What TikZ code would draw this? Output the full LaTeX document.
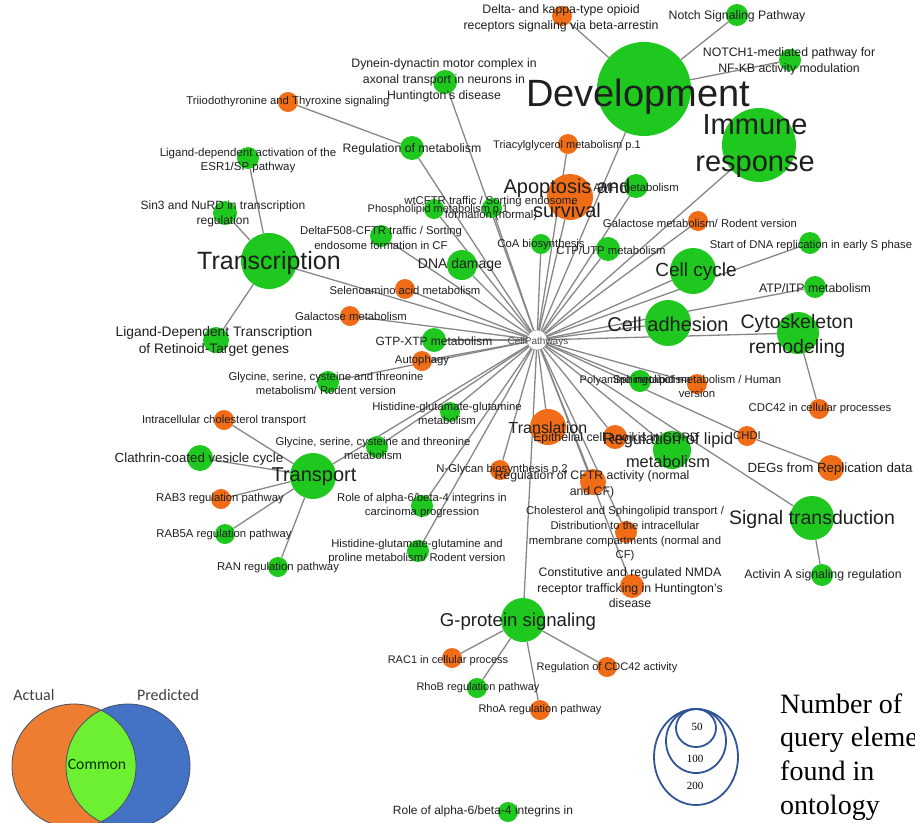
\documentclass[tikz,border=0pt]{standalone}
\usepackage{fontspec}
\setmainfont{Liberation Sans}
\newfontfamily\serifface{Liberation Serif}
\newfontfamily\calface{Carlito}
\definecolor{pgreen}{RGB}{30,200,30}
\definecolor{porange}{RGB}{240,108,22}
\definecolor{linkgray}{RGB}{135,135,135}
\definecolor{vorange}{RGB}{237,125,49}
\definecolor{vblue}{RGB}{68,114,196}
\definecolor{vgreen}{RGB}{110,240,50}
\definecolor{vline}{RGB}{70,80,100}
\definecolor{sizeblue}{RGB}{47,85,151}
\pgfdeclarelayer{links}
\pgfsetlayers{links,main}

\begin{document}
\begin{tikzpicture}[x=1pt, y=-1pt,
  gnode/.style={circle, fill=pgreen, inner sep=0pt, minimum size=#1},
  onode/.style={circle, fill=porange, inner sep=0pt, minimum size=#1},
  lbl/.style={font=\fontsize{11.3}{14}\selectfont, align=center, inner sep=0pt, text=black!88},
  fs/.style 2 args={font=\fontsize{#1}{#2}\selectfont},
  link/.style={draw=linkgray, line width=1.3pt}]
\useasboundingbox (0,0) rectangle (915,822);
\clip (0,0) rectangle (915,822);
% pathway circles
\node[circle, draw=linkgray, fill=white, minimum size=20pt, inner sep=0pt] (CPN0) at (537,340) {};
\node[gnode=94pt] (CPN1) at (644,89) {};
\node[gnode=74pt] (CPN2) at (759,145) {};
\node[gnode=56pt] (CPN3) at (269,261) {};
\node[onode=46pt] (CPN4) at (570,197) {};
\node[gnode=46pt] (CPN5) at (693,271) {};
\node[gnode=46pt] (CPN6) at (668,323) {};
\node[gnode=42pt] (CPN7) at (798,333) {};
\node[gnode=44pt] (CPN8) at (812,518) {};
\node[gnode=46pt] (CPN9) at (313,476) {};
\node[onode=36pt] (CPN10) at (548,427) {};
\node[gnode=38pt] (CPN11) at (672,450) {};
\node[gnode=44pt] (CPN12) at (523,620) {};
\node[gnode=30pt] (CPN13) at (462,265) {};
\node[gnode=26pt] (CPN14) at (216,340) {};
\node[gnode=26pt] (CPN15) at (200,458) {};
\node[gnode=24pt] (CPN16) at (434,340) {};
\node[gnode=24pt] (CPN17) at (412,148) {};
\node[onode=20pt] (CPN18) at (288,102) {};
\node[gnode=24pt] (CPN19) at (445,82) {};
\node[onode=20pt] (CPN20) at (562,16) {};
\node[gnode=22pt] (CPN21) at (737,15) {};
\node[gnode=22pt] (CPN22) at (790,60) {};
\node[onode=20pt] (CPN23) at (568,144) {};
\node[gnode=24pt] (CPN24) at (636,186) {};
\node[gnode=20pt] (CPN25) at (434,209) {};
\node[gnode=20pt] (CPN26) at (492,208) {};
\node[gnode=22pt] (CPN27) at (381,236) {};
\node[gnode=20pt] (CPN28) at (541,244) {};
\node[gnode=24pt] (CPN29) at (608,249) {};
\node[onode=20pt] (CPN30) at (698,221) {};
\node[gnode=22pt] (CPN31) at (810,243) {};
\node[gnode=22pt] (CPN32) at (815,287) {};
\node[onode=20pt] (CPN33) at (405,289) {};
\node[onode=20pt] (CPN34) at (350,316) {};
\node[onode=20pt] (CPN35) at (422,361) {};
\node[gnode=22pt] (CPN36) at (328,382) {};
\node[gnode=20pt] (CPN37) at (450,412) {};
\node[onode=20pt] (CPN38) at (224,420) {};
\node[gnode=22pt] (CPN39) at (377,447) {};
\node[onode=20pt] (CPN40) at (221,499) {};
\node[gnode=20pt] (CPN41) at (225,534) {};
\node[gnode=20pt] (CPN42) at (278,567) {};
\node[gnode=22pt] (CPN43) at (422,506) {};
\node[gnode=22pt] (CPN44) at (418,551) {};
\node[onode=20pt] (CPN45) at (500,470) {};
\node[onode=26pt] (CPN46) at (593,482) {};
\node[onode=24pt] (CPN47) at (615,437) {};
\node[gnode=22pt] (CPN48) at (640,381) {};
\node[onode=20pt] (CPN49) at (697,384) {};
\node[onode=20pt] (CPN50) at (747,436) {};
\node[onode=26pt] (CPN51) at (831,468) {};
\node[onode=20pt] (CPN52) at (819,409) {};
\node[gnode=22pt] (CPN53) at (822,575) {};
\node[onode=22pt] (CPN54) at (626,532) {};
\node[onode=24pt] (CPN55) at (632,586) {};
\node[onode=20pt] (CPN56) at (452,658) {};
\node[onode=20pt] (CPN57) at (607,667) {};
\node[gnode=20pt] (CPN58) at (477,688) {};
\node[onode=20pt] (CPN59) at (540,710) {};
\node[gnode=20pt] (CPN60) at (508,812) {};
\node[gnode=22pt] (CPN61) at (248,158) {};
\node[gnode=24pt] (CPN62) at (225,213) {};
% pathway names
\node[lbl, fs={10}{12}, text=black!70] (CPT0) at (538,342) {CellPathways};
\node[lbl, fs={38}{40}] (CPT1) at (638,97) {Development};
\node[lbl, fs={29}{37}] (CPT2) at (755,146) {Immune\\response};
\node[lbl, fs={25}{28}] (CPT3) at (269,263) {Transcription};
\node[lbl, fs={20}{24}] (CPT4) at (567,198) {Apoptosis and\\survival};
\node[lbl, fs={19}{22}] (CPT5) at (696,272) {Cell cycle};
\node[lbl, fs={20}{23}] (CPT6) at (668,324) {Cell adhesion};
\node[lbl, fs={19.5}{25}] (CPT7) at (797,336) {Cytoskeleton\\remodeling};
\node[lbl, fs={19.5}{22}] (CPT8) at (812,519) {Signal transduction};
\node[lbl, fs={20}{23}] (CPT9) at (314,477) {Transport};
\node[lbl, fs={16}{19}] (CPT10) at (548,428) {Translation};
\node[lbl, fs={16.4}{23}] (CPT11) at (668,450) {Regulation of lipid\\metabolism};
\node[lbl, fs={18.6}{21}] (CPT12) at (518,622) {G-protein signaling};
\node[lbl, fs={14}{16}] (CPT13) at (460,265) {DNA damage};
\node[lbl, fs={13.8}{17}] (CPT14) at (214,341) {Ligand-Dependent Transcription\\of Retinoid-Target genes};
\node[lbl, fs={13.3}{16}] (CPT15) at (199,459) {Clathrin-coated vesicle cycle};
\node[lbl, fs={12}{14}] (CPT16) at (434,341) {GTP-XTP metabolism};
\node[lbl, fs={12.3}{14}] (CPT17) at (412,149) {Regulation of metabolism};
\node[lbl] (CPT18) at (288,102) {Triiodothyronine and Thyroxine signaling};
\node[lbl, fs={12.3}{16}] (CPT19) at (444,80) {Dynein-dynactin motor complex in\\axonal transport in neurons in\\Huntington's disease};
\node[lbl, fs={12.3}{16}] (CPT20) at (561,18) {Delta- and kappa-type opioid\\receptors signaling via beta-arrestin};
\node[lbl, fs={12.3}{14}] (CPT21) at (737,16) {Notch Signaling Pathway};
\node[lbl, fs={12.3}{16}] (CPT22) at (789,61) {NOTCH1-mediated pathway for\\NF-KB activity modulation};
\node[lbl, fs={11}{13}] (CPT23) at (567,146) {Triacylglycerol metabolism p.1};
\node[lbl] (CPT24) at (636,187) {AMP metabolism};
\node[lbl, fs={11}{13}] (CPT25) at (438,210) {Phospholipid metabolism p.1};
\node[lbl] (CPT26) at (491,209) {wtCFTR traffic / Sorting endosome\\formation (normal)};
\node[lbl, fs={11.3}{15}] (CPT27) at (381,238) {DeltaF508-CFTR traffic / Sorting\\endosome formation in CF};
\node[lbl] (CPT28) at (541,245) {CoA biosynthesis};
\node[lbl] (CPT29) at (611,250) {CTP/UTP metabolism};
\node[lbl] (CPT30) at (700,223) {Galactose metabolism/ Rodent version};
\node[lbl] (CPT31) at (811,246) {Start of DNA replication in early S phase};
\node[lbl, fs={12.3}{14}] (CPT32) at (815,288) {ATP/ITP metabolism};
\node[lbl] (CPT33) at (405,290) {Selenoamino acid metabolism};
\node[lbl] (CPT34) at (351,316) {Galactose metabolism};
\node[lbl] (CPT35) at (422,361) {Autophagy};
\node[lbl] (CPT36) at (326,383) {Glycine, serine, cysteine and threonine\\metabolism/ Rodent version};
\node[lbl] (CPT37) at (447,413) {Histidine-glutamate-glutamine\\metabolism};
\node[lbl] (CPT38) at (224,421) {Intracellular cholesterol transport};
\node[lbl] (CPT39) at (373,448) {Glycine, serine, cysteine and threonine\\metabolism};
\node[lbl] (CPT40) at (220,499) {RAB3 regulation pathway};
\node[lbl] (CPT41) at (224,535) {RAB5A regulation pathway};
\node[lbl] (CPT42) at (278,568) {RAN regulation pathway};
\node[lbl] (CPT43) at (422,506) {Role of alpha-6/beta-4 integrins in\\carcinoma progression};
\node[lbl] (CPT44) at (417,552) {Histidine-glutamate-glutamine and\\proline metabolism/ Rodent version};
\node[lbl] (CPT45) at (502,470) {N-Glycan biosynthesis p.2};
\node[lbl, fs={12.3}{16}] (CPT46) at (592,484) {Regulation of CFTR activity (normal\\and CF)};
\node[lbl, fs={12.3}{14}] (CPT47) at (616,438) {Epithelial cell anoikis in COPD};
\node[lbl, fs={11}{13}] (CPT48) at (635,381) {Polyamine metabolism};
\node[lbl] (CPT49) at (697,386) {Sphingolipid metabolism / Human\\version};
\node[lbl] (CPT50) at (747,436) {CHDI};
\node[lbl, fs={13.3}{16}] (CPT51) at (830,469) {DEGs from Replication data};
\node[lbl] (CPT52) at (820,409) {CDC42 in cellular processes};
\node[lbl, fs={12.3}{14}] (CPT53) at (823,575) {Activin A signaling regulation};
\node[lbl, fs={11.3}{14.7}] (CPT54) at (625,534) {Cholesterol and Sphingolipid transport /\\Distribution to the intracellular\\membrane compartments (normal and\\CF)};
\node[lbl, fs={12.3}{15.5}] (CPT55) at (630,588) {Constitutive and regulated NMDA\\receptor trafficking in Huntington's\\disease};
\node[lbl, fs={11}{13}] (CPT56) at (448,661) {RAC1 in cellular process};
\node[lbl, fs={11}{13}] (CPT57) at (607,668) {Regulation of CDC42 activity};
\node[lbl, fs={11}{13}] (CPT58) at (478,688) {RhoB regulation pathway};
\node[lbl, fs={11}{13}] (CPT59) at (540,710) {RhoA regulation pathway};
\node[lbl, fs={12}{14}] (CPT60) at (483,811) {Role of alpha-6/beta-4 integrins in};
\node[lbl, fs={11.5}{14}] (CPT61) at (248,161) {Ligand-dependent activation of the\\ESR1/SP pathway};
\node[lbl, fs={12}{15}] (CPT62) at (223,214) {Sin3 and NuRD in transcription\\regulation};
% links
\begin{pgfonlayer}{links}
\draw[link] (CPN0) -- (CPN1);
\draw[link] (CPN0) -- (CPN2);
\draw[link] (CPN0) -- (CPN3);
\draw[link] (CPN0) -- (CPN4);
\draw[link] (CPN0) -- (CPN5);
\draw[link] (CPN0) -- (CPN6);
\draw[link] (CPN0) -- (CPN7);
\draw[link] (CPN0) -- (CPN8);
\draw[link] (CPN0) -- (CPN9);
\draw[link] (CPN0) -- (CPN10);
\draw[link] (CPN0) -- (CPN11);
\draw[link] (CPN0) -- (CPN12);
\draw[link] (CPN0) -- (CPN13);
\draw[link] (CPN0) -- (CPN16);
\draw[link] (CPN0) -- (CPN17);
\draw[link] (CPN0) -- (CPN19);
\draw[link] (CPN0) -- (CPN23);
\draw[link] (CPN0) -- (CPN24);
\draw[link] (CPN0) -- (CPN25);
\draw[link] (CPN0) -- (CPN26);
\draw[link] (CPN0) -- (CPN27);
\draw[link] (CPN0) -- (CPN28);
\draw[link] (CPN0) -- (CPN29);
\draw[link] (CPN0) -- (CPN30);
\draw[link] (CPN0) -- (CPN31);
\draw[link] (CPN0) -- (CPN32);
\draw[link] (CPN0) -- (CPN33);
\draw[link] (CPN0) -- (CPN34);
\draw[link] (CPN0) -- (CPN35);
\draw[link] (CPN0) -- (CPN36);
\draw[link] (CPN0) -- (CPN37);
\draw[link] (CPN0) -- (CPN39);
\draw[link] (CPN0) -- (CPN43);
\draw[link] (CPN0) -- (CPN44);
\draw[link] (CPN0) -- (CPN45);
\draw[link] (CPN0) -- (CPN46);
\draw[link] (CPN0) -- (CPN47);
\draw[link] (CPN0) -- (CPN48);
\draw[link] (CPN0) -- (CPN49);
\draw[link] (CPN0) -- (CPN50);
\draw[link] (CPN0) -- (CPN54);
\draw[link] (CPN0) -- (CPN55);
\draw[link] (CPN1) -- (CPN20);
\draw[link] (CPN1) -- (CPN21);
\draw[link] (CPN1) -- (CPN22);
\draw[link] (CPN3) -- (CPN14);
\draw[link] (CPN3) -- (CPN61);
\draw[link] (CPN3) -- (CPN62);
\draw[link] (CPN17) -- (CPN18);
\draw[link] (CPN9) -- (CPN15);
\draw[link] (CPN9) -- (CPN38);
\draw[link] (CPN9) -- (CPN40);
\draw[link] (CPN9) -- (CPN41);
\draw[link] (CPN9) -- (CPN42);
\draw[link] (CPN7) -- (CPN52);
\draw[link] (CPN50) -- (CPN51);
\draw[link] (CPN8) -- (CPN53);
\draw[link] (CPN12) -- (CPN56);
\draw[link] (CPN12) -- (CPN57);
\draw[link] (CPN12) -- (CPN58);
\draw[link] (CPN12) -- (CPN59);
\end{pgfonlayer}
% legend: venn
\fill[vorange] (74,766) circle (62pt);
\fill[vblue] (128,766) circle (62pt);
\begin{scope}
\clip (74,766) circle (62pt);
\fill[vgreen] (128,766) circle (62pt);
\end{scope}
\draw[vline, line width=0.8pt] (74,766) circle (62pt);
\draw[vline, line width=0.8pt] (128,766) circle (62pt);
\node[font=\calface\fontsize{16}{18}\selectfont, text=black!75, inner sep=0pt] (LGA) at (34,695) {Actual};
\node[font=\calface\fontsize{16}{18}\selectfont, text=black!75, inner sep=0pt] (LGP) at (168,695) {Predicted};
\node[font=\calface\fontsize{15.7}{18}\selectfont, text=black!80!green, inner sep=0pt] (LGC) at (97,764) {Common};
% legend: size
\draw[sizeblue, line width=1.8pt] (696,757) ellipse (42pt and 48pt);
\draw[sizeblue, line width=1.8pt] (696,741) ellipse (30pt and 32pt);
\draw[sizeblue, line width=1.8pt] (696,728) ellipse (20pt and 19pt);
\node[font=\serifface\fontsize{11}{13}\selectfont, inner sep=0pt] (LG50) at (697,727) {50};
\node[font=\serifface\fontsize{11}{13}\selectfont, inner sep=0pt] (LG100) at (695,759) {100};
\node[font=\serifface\fontsize{11}{13}\selectfont, inner sep=0pt] (LG200) at (695,786) {200};
\node[anchor=west, align=left, font=\serifface\fontsize{28}{33.7}\selectfont, inner sep=0pt] (LGN) at (780,757) {Number of\\query elements\\found in\\ontology};
\end{tikzpicture}
\end{document}
